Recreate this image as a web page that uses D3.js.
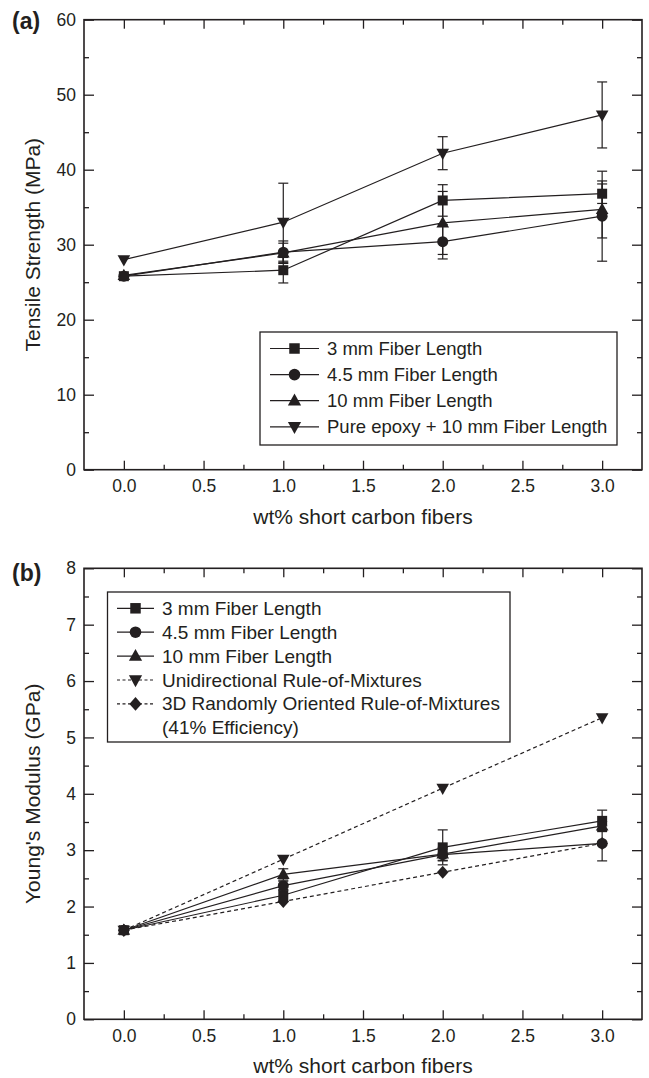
<!DOCTYPE html>
<html>
<head>
<meta charset="utf-8">
<script src="https://cdn.jsdelivr.net/npm/d3@7"></script>
<style>
  html, body { margin: 0; padding: 0; background: #fff; }
  svg { display: block; }
  text { font-family: "Liberation Sans", Arial, Helvetica, sans-serif; fill: #231f20; }
</style>
</head>
<body>
<svg id="chart" width="649" height="1078"></svg>
<script>
// ---------- DATA ----------
const xValues = [0, 1, 2, 3];
const xTickLabels = ["0.0", "0.5", "1.0", "1.5", "2.0", "2.5", "3.0"];

// Panel (a): Tensile strength (MPa)
const a3mm      = [25.8, 26.6, 35.9, 36.8];
const a3mmErr   = [0, 1.7, 2.1, 1.3];
const a45mm     = [25.8, 29.0, 30.4, 33.8];
const a45mmErr  = [0, 1.5, 2.3, 6.0];
const a10mm     = [25.9, 28.9, 32.9, 34.7];
const a10mmErr  = [0, 1.3, 4.2, 3.8];
const aPure     = [28.0, 33.0, 42.2, 47.3];
const aPureErr  = [0, 5.2, 2.2, 4.4];
const aYTicks   = [0, 10, 20, 30, 40, 50, 60];
const aLegend   = ["3 mm Fiber Length", "4.5 mm Fiber Length", "10 mm Fiber Length", "Pure epoxy + 10 mm Fiber Length"];

// Panel (b): Young's modulus (GPa)
const b3mm      = [1.58, 2.20, 3.05, 3.52];
const b3mmErr   = [0, 0.10, 0.31, 0.19];
const b45mm     = [1.58, 2.37, 2.92, 3.12];
const b45mmErr  = [0, 0.08, 0.10, 0.31];
const b10mm     = [1.58, 2.57, 2.93, 3.43];
const b10mmErr  = [0, 0.10, 0.12, 0.08];
const bUniROM   = [1.58, 2.84, 4.10, 5.35];
const b3DROM    = [1.58, 2.09, 2.61, 3.12];
const bYTicks   = [0, 1, 2, 3, 4, 5, 6, 7, 8];
const bLegend   = ["3 mm Fiber Length", "4.5 mm Fiber Length", "10 mm Fiber Length", "Unidirectional Rule-of-Mixtures", "3D Randomly Oriented Rule-of-Mixtures", "(41% Efficiency)"];

// ---------- DRAWING ----------
const INK = "#231f20";
const svg = d3.select("#chart");

function marker(g, type, cx, cy, k = 1) {
  if (type === "square") {
    g.append("rect").attr("x", cx - 5 * k).attr("y", cy - 5 * k)
      .attr("width", 10 * k).attr("height", 10 * k).attr("fill", INK);
  } else if (type === "circle") {
    g.append("circle").attr("cx", cx).attr("cy", cy).attr("r", 5.5 * k).attr("fill", INK);
  } else if (type === "up") {
    g.append("path").attr("d", `M${cx - 6.3 * k},${cy + 4.5 * k}L${cx + 6.3 * k},${cy + 4.5 * k}L${cx},${cy - 6.8 * k}Z`).attr("fill", INK);
  } else if (type === "down") {
    g.append("path").attr("d", `M${cx - 6.3 * k},${cy - 4.5 * k}L${cx + 6.3 * k},${cy - 4.5 * k}L${cx},${cy + 6.8 * k}Z`).attr("fill", INK);
  } else if (type === "diamond") {
    g.append("path").attr("d", `M${cx},${cy - 6.5 * k}L${cx + 5.8 * k},${cy}L${cx},${cy + 6.5 * k}L${cx - 5.8 * k},${cy}Z`).attr("fill", INK);
  }
}

function panel(opts) {
  const { top, bottom, yMax, yTicks, yMinor, series, label, labelY, yTitle, legend } = opts;
  const left = 84, right = 642;
  const x = d3.scaleLinear().domain([-0.25, 3.25]).range([left, right]);
  const y = d3.scaleLinear().domain([0, yMax]).range([bottom, top]);
  const g = svg.append("g");

  const xMajor = d3.range(0, 3.01, 0.5);
  const xMinor = d3.range(0.25, 3.01, 0.5);

  // bottom axis
  const xb = g.append("g").attr("transform", `translate(0,${bottom})`)
    .call(d3.axisBottom(x).tickValues(xMajor).tickFormat((d, i) => xTickLabels[i])
      .tickSizeInner(-9).tickSizeOuter(0).tickPadding(10));
  xb.selectAll("text").attr("font-size", 17.5).attr("font-family", null).style("fill", INK);
  g.append("g").attr("transform", `translate(0,${bottom})`)
    .call(d3.axisBottom(x).tickValues(xMinor).tickFormat("").tickSizeInner(-5).tickSizeOuter(0));
  // top axis
  g.append("g").attr("transform", `translate(0,${top})`)
    .call(d3.axisTop(x).tickValues(xMajor).tickFormat("").tickSizeInner(-9).tickSizeOuter(0));
  g.append("g").attr("transform", `translate(0,${top})`)
    .call(d3.axisTop(x).tickValues(xMinor).tickFormat("").tickSizeInner(-5).tickSizeOuter(0));
  // left axis
  const yl = g.append("g").attr("transform", `translate(${left},0)`)
    .call(d3.axisLeft(y).tickValues(yTicks).tickFormat(d3.format("d"))
      .tickSizeInner(-10).tickSizeOuter(0).tickPadding(8));
  yl.selectAll("text").attr("font-size", 17.5).attr("font-family", null).style("fill", INK);
  g.append("g").attr("transform", `translate(${left},0)`)
    .call(d3.axisLeft(y).tickValues(yMinor).tickFormat("").tickSizeInner(-5).tickSizeOuter(0));
  // right axis
  g.append("g").attr("transform", `translate(${right},0)`)
    .call(d3.axisRight(y).tickValues(yTicks).tickFormat("").tickSizeInner(-10).tickSizeOuter(0));
  g.append("g").attr("transform", `translate(${right},0)`)
    .call(d3.axisRight(y).tickValues(yMinor).tickFormat("").tickSizeInner(-5).tickSizeOuter(0));

  g.selectAll(".domain").remove();
  g.selectAll(".tick line").attr("stroke", INK).attr("stroke-width", 1.3);

  // frame
  g.append("rect").attr("x", left).attr("y", top).attr("width", right - left).attr("height", bottom - top)
    .attr("fill", "none").attr("stroke", INK).attr("stroke-width", 1.6);

  // lines
  const line = d3.line().x((d, i) => x(xValues[i])).y(d => y(d));
  series.forEach(s => {
    g.append("path").datum(s.values).attr("d", line).attr("fill", "none")
      .attr("stroke", INK).attr("stroke-width", 1.2)
      .attr("stroke-dasharray", s.dashed ? "4,3" : null);
  });
  // error bars
  series.forEach(s => {
    if (!s.err) return;
    s.values.forEach((v, i) => {
      const e = s.err[i];
      if (!e) return;
      const cx = x(xValues[i]);
      const y1 = y(v + e), y2 = y(v - e);
      g.append("line").attr("x1", cx).attr("x2", cx).attr("y1", y1).attr("y2", y2)
        .attr("stroke", INK).attr("stroke-width", 1.2);
      [y1, y2].forEach(yy => g.append("line").attr("x1", cx - 5).attr("x2", cx + 5)
        .attr("y1", yy).attr("y2", yy).attr("stroke", INK).attr("stroke-width", 1.2));
    });
  });
  // markers
  series.forEach(s => {
    s.values.forEach((v, i) => marker(g, s.shape, x(xValues[i]), y(v)));
  });

  // panel label
  g.append("text").attr("x", 12).attr("y", labelY).attr("font-size", 23).attr("font-weight", "bold").text(label);

  // axis titles
  g.append("text").attr("x", (left + right) / 2).attr("y", bottom + 54)
    .attr("text-anchor", "middle").attr("font-size", 21).text("wt% short carbon fibers");
  g.append("text").attr("transform", `translate(40,${(top + bottom) / 2}) rotate(-90)`)
    .attr("text-anchor", "middle").attr("font-size", 21).text(yTitle);

  // legend
  const L = legend;
  const lg = g.append("g");
  lg.append("rect").attr("x", L.x0).attr("y", L.y0).attr("width", L.x1 - L.x0).attr("height", L.y1 - L.y0)
    .attr("fill", "#fff").attr("stroke", INK).attr("stroke-width", 1.3);
  L.labels.forEach((txt, i) => {
    const cy = L.firstY + i * L.step;
    const s = series[i];
    if (s) {
      lg.append("line").attr("x1", L.lx0).attr("x2", L.lx1).attr("y1", cy).attr("y2", cy)
        .attr("stroke", INK).attr("stroke-width", 1.2).attr("stroke-dasharray", s.dashed ? "3,2.5" : null);
      marker(lg, s.shape, (L.lx0 + L.lx1) / 2, cy, 1.05);
    }
    lg.append("text").attr("x", L.tx).attr("y", cy + 6.5).attr("font-size", L.fs).text(txt);
  });
}

panel({
  top: 19.7, bottom: 469.7, yMax: 60, yTicks: aYTicks, yMinor: [5, 15, 25, 35, 45, 55],
  label: "(a)", labelY: 29, yTitle: "Tensile Strength (MPa)",
  series: [
    { values: a3mm,  err: a3mmErr,  shape: "square" },
    { values: a45mm, err: a45mmErr, shape: "circle" },
    { values: a10mm, err: a10mmErr, shape: "up" },
    { values: aPure, err: aPureErr, shape: "down" }
  ],
  legend: { x0: 260, x1: 617, y0: 332, y1: 445, lx0: 270, lx1: 319, tx: 327, firstY: 348.5, step: 26.1, fs: 18.5, labels: aLegend }
});

panel({
  top: 568.3, bottom: 1019.3, yMax: 8, yTicks: bYTicks, yMinor: d3.range(0.5, 8, 1),
  label: "(b)", labelY: 581, yTitle: "Young's Modulus (GPa)",
  series: [
    { values: b3mm,    err: b3mmErr,  shape: "square" },
    { values: b45mm,   err: b45mmErr, shape: "circle" },
    { values: b10mm,   err: b10mmErr, shape: "up" },
    { values: bUniROM, shape: "down", dashed: true },
    { values: b3DROM,  shape: "diamond", dashed: true }
  ],
  legend: { x0: 107.5, x1: 510, y0: 592, y1: 742, lx0: 117, lx1: 154, tx: 162, firstY: 608.3, step: 23.9, fs: 19, labels: bLegend }
});
</script>
</body>
</html>
